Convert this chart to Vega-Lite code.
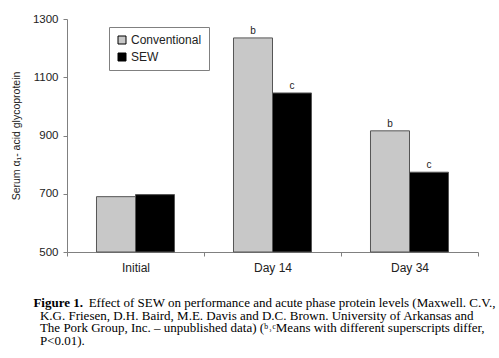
{
  "$schema": "https://vega.github.io/schema/vega-lite/v6.json",
  "autosize": "none",
  "width": 411,
  "height": 233,
  "padding": {"left": 67, "top": 19, "right": 21, "bottom": 106},
  "background": "white",
  "config": {"view": {"stroke": null}, "font": "Liberation Sans"},
  "title": {
    "text": "Figure 1.",
    "subtitle": [
      "\u200b\u00a0\u00a0\u00a0\u00a0\u00a0\u00a0\u00a0\u00a0\u00a0\u00a0\u00a0\u00a0\u00a0\u00a0\u00a0\u00a0\u00a0Effect of SEW on performance and acute phase protein levels (Maxwell. C.V.,",
      "\u200b\u00a0\u00a0K.G. Friesen, D.H. Baird, M.E. Davis and D.C. Brown. University of Arkansas and",
      "\u200b\u00a0\u00a0The Pork Group, Inc. – unpublished data) (ᵇ˒ᶜMeans with different superscripts differ,",
      "\u200b\u00a0\u00a0P<0.01)."
    ],
    "orient": "bottom",
    "anchor": "start",
    "frame": "bounds",
    "dx": 22,
    "font": "Liberation Serif",
    "fontSize": 13,
    "fontWeight": "bold",
    "color": "black",
    "subtitleFont": "Liberation Serif",
    "subtitleFontSize": 13,
    "subtitleColor": "black",
    "subtitlePadding": -13,
    "subtitleLineHeight": 12.5,
    "offset": 24
  },
  "data": {
    "values": [
      {"day": "Initial", "group": "Conventional", "value": 690, "letter": ""},
      {"day": "Initial", "group": "SEW", "value": 697, "letter": ""},
      {"day": "Day 14", "group": "Conventional", "value": 1235, "letter": "b"},
      {"day": "Day 14", "group": "SEW", "value": 1046, "letter": "c"},
      {"day": "Day 34", "group": "Conventional", "value": 916, "letter": "b"},
      {"day": "Day 34", "group": "SEW", "value": 774, "letter": "c"}
    ]
  },
  "encoding": {
    "x": {
      "field": "day", "type": "nominal", "sort": ["Initial", "Day 14", "Day 34"],
      "scale": {"paddingInner": 0, "paddingOuter": 0},
      "axis": {"title": null, "labelAngle": 0, "tickBand": "extent", "domainColor": "#808080", "tickColor": "#808080", "tickSize": 4, "labelFontSize": 12, "labelColor": "#222", "labelPadding": 6}
    },
    "xOffset": {"field": "group", "type": "nominal", "scale": {"paddingInner": 0, "paddingOuter": 0.756}},
    "y": {
      "field": "value", "type": "quantitative",
      "scale": {"domain": [500, 1300], "nice": false, "zero": false},
      "axis": {"title": "Serum α₁- acid glycoprotein", "values": [500, 700, 900, 1100, 1300], "format": "d", "grid": false, "domainColor": "#808080", "tickColor": "#808080", "tickSize": 4, "labelFontSize": 11.5, "labelColor": "#222", "titleFontSize": 10.5, "titleFontWeight": "normal", "titleColor": "#222", "titlePadding": 11, "labelPadding": 5}
    }
  },
  "layer": [
    {
      "mark": {"type": "bar", "stroke": "#555", "strokeWidth": 1},
      "encoding": {
        "y2": {"datum": 500},
        "color": {
          "field": "group", "type": "nominal",
          "scale": {"domain": ["Conventional", "SEW"], "range": ["#c8c8c8", "#000000"]},
          "legend": {"title": null, "orient": "none", "legendX": 42, "legendY": 8, "strokeColor": "#808080", "fillColor": "white", "padding": 7, "symbolType": "square", "symbolSize": 64, "symbolStrokeColor": "black", "symbolStrokeWidth": 1, "labelFontSize": 12, "labelColor": "#222", "labelOffset": 3, "rowPadding": 5}
        }
      }
    },
    {
      "mark": {"type": "text", "dy": -2, "fontSize": 10, "color": "#222", "baseline": "bottom"},
      "encoding": {"text": {"field": "letter"}}
    }
  ]
}
